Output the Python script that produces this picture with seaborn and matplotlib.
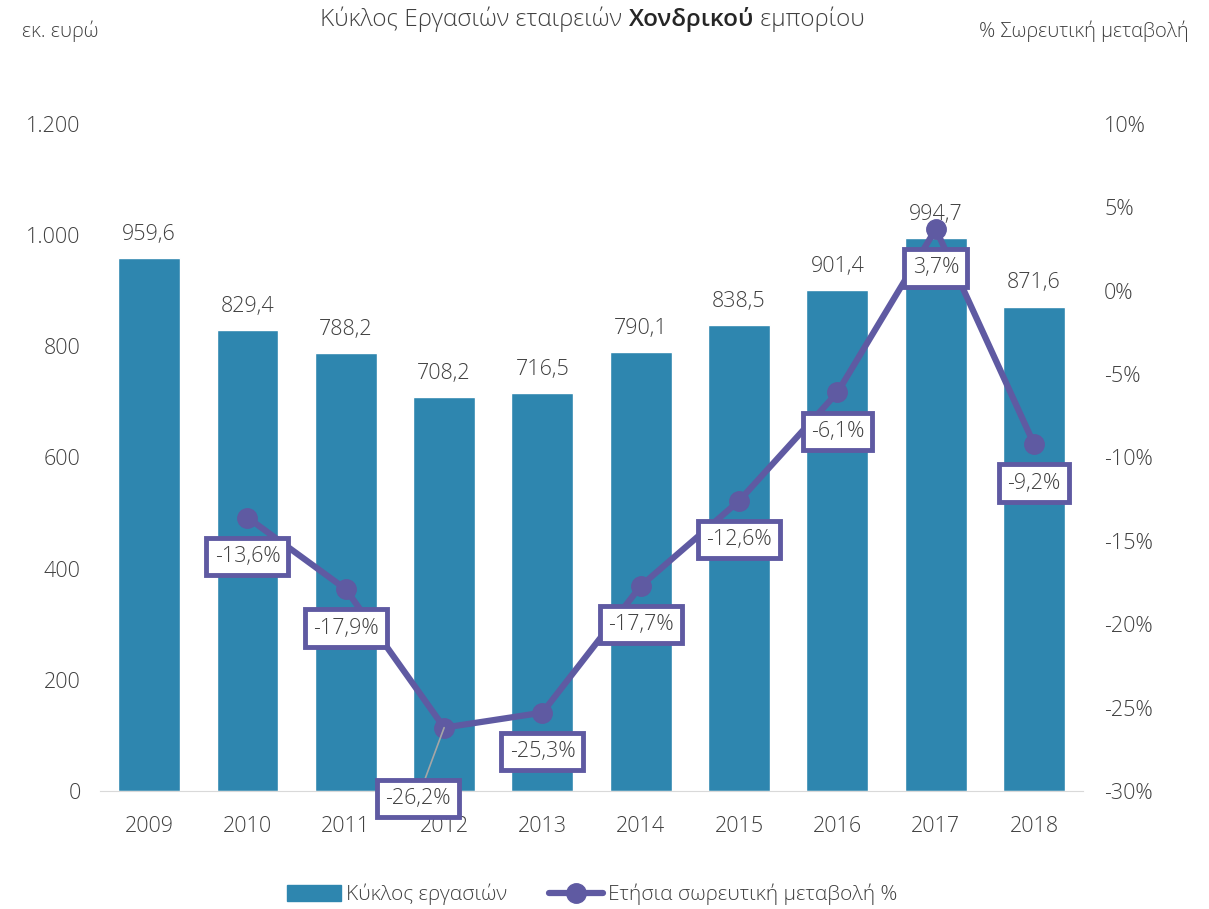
import numpy as np
import pandas as pd
import matplotlib
matplotlib.use('Agg')
import matplotlib.pyplot as plt
import seaborn as sns
from matplotlib.offsetbox import TextArea, HPacker, AnchoredOffsetbox
from matplotlib.lines import Line2D
from matplotlib.patches import Patch

years = ['2009', '2010', '2011', '2012', '2013', '2014', '2015', '2016', '2017', '2018']
turnover = [959.6, 829.4, 788.2, 708.2, 716.5, 790.1, 838.5, 901.4, 994.7, 871.6]
change = [np.nan, -13.6, -17.9, -26.2, -25.3, -17.7, -12.6, -6.1, 3.7, -9.2]

bar_color = '#2E86AF'
line_color = '#5F5AA2'
text_color = '#404040'

sns.set_style('white')
plt.rcParams['font.family'] = ['Open Sans', 'DejaVu Sans']
plt.rcParams['font.weight'] = 'light'

df = pd.DataFrame({'year': years, 'turnover': turnover, 'change': change})


def gr(v, d=1):
    s = f'{v:,.{d}f}'
    return s.replace(',', 'X').replace('.', ',').replace('X', '.')


fig = plt.figure(figsize=(12.09, 9.09), dpi=100)
ax = fig.add_axes([0.0827, 0.1298, 0.8133, 0.7338])

sns.barplot(data=df, x='year', y='turnover', color=bar_color, width=0.63,
            saturation=1, ax=ax)
ax.set_ylim(0, 1200)
ax.set_xlim(-0.5, 9.5)
ax.set_yticks(range(0, 1201, 200))
ax.set_yticklabels([gr(v, 0) for v in range(0, 1201, 200)])
ax.set_xlabel('')
ax.set_ylabel('')
for s in ['top', 'right', 'left']:
    ax.spines[s].set_visible(False)
ax.spines['bottom'].set_color('#D9D9D9')
ax.tick_params(axis='both', length=0, labelsize=15.5, colors=text_color)
ax.tick_params(axis='y', pad=14)
ax.tick_params(axis='x', pad=18)

for i, v in enumerate(turnover):
    ax.annotate(gr(v), (i, v), xytext=(0, 17), textcoords='offset points',
                ha='center', va='center', fontsize=15.5, color=text_color)

ax2 = ax.twinx()
ax2.set_ylim(-30, 10)
ax2.set_yticks(range(-30, 11, 5))
ax2.set_yticklabels([f'{v}%' for v in range(-30, 11, 5)])
ax2.tick_params(axis='y', length=0, labelsize=15.5, colors=text_color, pad=15)
for s in ax2.spines.values():
    s.set_visible(False)

xs = np.arange(len(years))
ax2.plot(xs, change, color=line_color, lw=4.5, marker='o', markersize=14,
         solid_capstyle='round', zorder=3)

box = dict(boxstyle='square,pad=0.38', fc='white', ec=line_color, lw=3.5)
for i, v in enumerate(change):
    if np.isnan(v):
        continue
    if years[i] == '2012':
        ax2.annotate(gr(v) + '%', (i, v), xytext=(-19, -51), textcoords='offset points',
                     ha='center', va='center', fontsize=15.5, color=text_color,
                     bbox=box, zorder=5,
                     arrowprops=dict(arrowstyle='-', color='#A6A6A6', lw=1.2,
                                     shrinkA=0, shrinkB=0))
    else:
        ax2.annotate(gr(v) + '%', (i, v), xytext=(0, -28), textcoords='offset points',
                     ha='center', va='center', fontsize=15.5, color=text_color,
                     bbox=box, zorder=5)

# axis titles
fig.text(0.018, 0.966, 'εκ. ευρώ', fontsize=14.5, color=text_color, ha='left', va='center')
fig.text(0.983, 0.966, '% Σωρευτική μεταβολή', fontsize=14.5, color=text_color,
         ha='right', va='center')

# title with semibold word
parts = [TextArea('Κύκλος Εργασιών εταιρειών ', textprops=dict(fontsize=17.5, color=text_color)),
         TextArea('Χονδρικού', textprops=dict(fontsize=17.5, color='#262626', fontweight='semibold')),
         TextArea(' εμπορίου', textprops=dict(fontsize=17.5, color=text_color))]
title = AnchoredOffsetbox(loc='center', child=HPacker(children=parts, align='baseline', pad=0, sep=0),
                          frameon=False, bbox_to_anchor=(0.49, 0.979),
                          bbox_transform=fig.transFigure, borderpad=0)
fig.add_artist(title)

handles = [Patch(color=bar_color, label='Κύκλος εργασιών'),
           Line2D([0], [0], color=line_color, lw=4.5, marker='o', markersize=14,
                  label='Ετήσια σωρευτική μεταβολή %')]
fig.legend(handles=handles, loc='center', bbox_to_anchor=(0.49, 0.016), ncol=2,
           frameon=False, fontsize=15, labelcolor=text_color, handlelength=2.6,
           handleheight=0.8, handletextpad=0.25, columnspacing=2.0)

fig.savefig('out.png', dpi=100)
